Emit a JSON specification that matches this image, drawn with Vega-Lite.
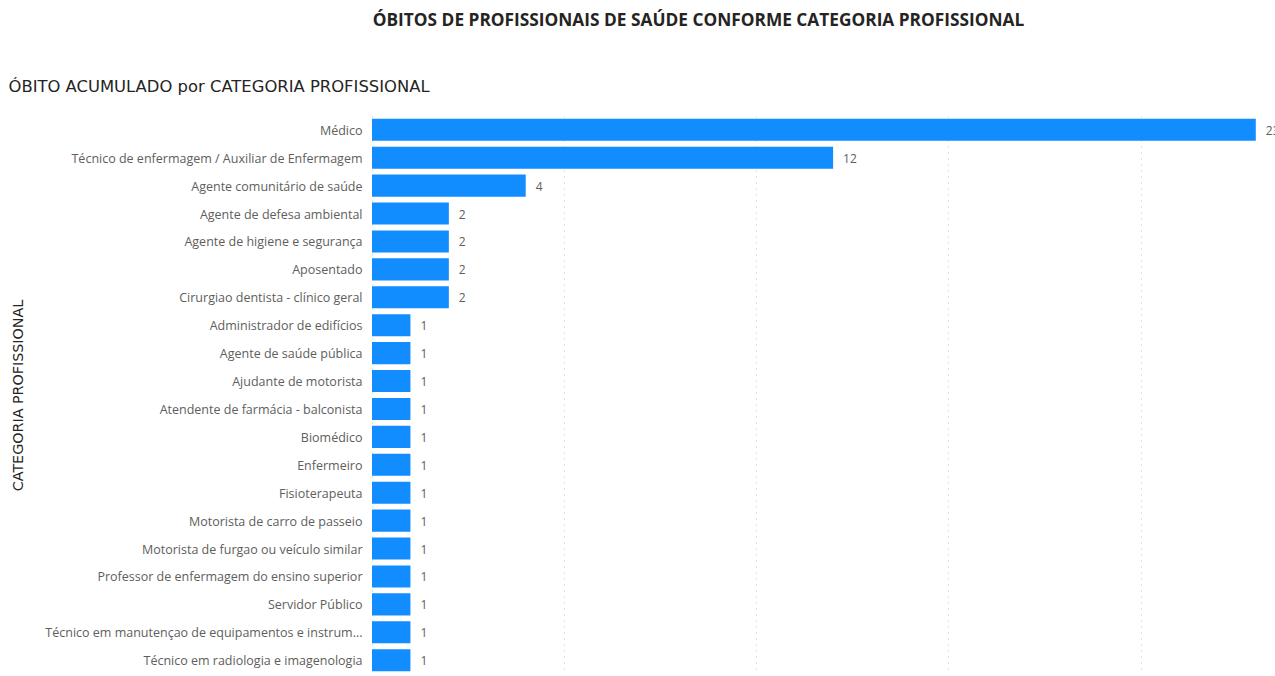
{
  "$schema": "https://vega.github.io/schema/vega-lite/v6.json",
  "autosize": {"type": "none"},
  "width": 903,
  "height": 558,
  "padding": {"left": 372, "top": 116, "right": 0, "bottom": 2},
  "background": "#ffffff",
  "view": {"stroke": null},
  "title": {
    "text": "ÓBITOS DE PROFISSIONAIS DE SAÚDE CONFORME CATEGORIA PROFISSIONAL",
    "anchor": "middle",
    "frame": "group",
    "dx": -125,
    "offset": 35,
    "baseline": "alphabetic",
    "font": "Open Sans",
    "fontSize": 17.3,
    "fontWeight": "bold",
    "color": "#252423"
  },
  "data": {
    "values": [
      {"categoria": "Médico", "obitos": 23},
      {"categoria": "Técnico de enfermagem / Auxiliar de Enfermagem", "obitos": 12},
      {"categoria": "Agente comunitário de saúde", "obitos": 4},
      {"categoria": "Agente de defesa ambiental", "obitos": 2},
      {"categoria": "Agente de higiene e segurança", "obitos": 2},
      {"categoria": "Aposentado", "obitos": 2},
      {"categoria": "Cirurgiao dentista - clínico geral", "obitos": 2},
      {"categoria": "Administrador de edifícios", "obitos": 1},
      {"categoria": "Agente de saúde pública", "obitos": 1},
      {"categoria": "Ajudante de motorista", "obitos": 1},
      {"categoria": "Atendente de farmácia - balconista", "obitos": 1},
      {"categoria": "Biomédico", "obitos": 1},
      {"categoria": "Enfermeiro", "obitos": 1},
      {"categoria": "Fisioterapeuta", "obitos": 1},
      {"categoria": "Motorista de carro de passeio", "obitos": 1},
      {"categoria": "Motorista de furgao ou veículo similar", "obitos": 1},
      {"categoria": "Professor de enfermagem do ensino superior", "obitos": 1},
      {"categoria": "Servidor Público", "obitos": 1},
      {"categoria": "Técnico em manutençao de equipamentos e instrum...", "obitos": 1},
      {"categoria": "Técnico em radiologia e imagenologia", "obitos": 1}
    ]
  },
  "encoding": {
    "y": {
      "field": "categoria",
      "type": "nominal",
      "sort": null,
      "scale": {"paddingInner": 0.21, "paddingOuter": 0.1},
      "axis": {
        "title": "CATEGORIA PROFISSIONAL",
        "titleFont": "DejaVu Sans",
        "titleFontSize": 14.3,
        "titleFontWeight": "normal",
        "titleColor": "#252423",
        "titleX": -354,
        "titleY": 279,
        "titleAngle": -90,
        "titleAlign": "center",
        "titleBaseline": "middle",
        "labelFont": "Open Sans",
        "labelFontSize": 12.5,
        "labelColor": "#605E5C",
        "labelPadding": 10,
        "labelLimit": 330,
        "labelBaseline": "middle",
        "labelOffset": 1,
        "ticks": false,
        "domain": false,
        "grid": false
      }
    },
    "x": {
      "field": "obitos",
      "type": "quantitative",
      "scale": {"domain": [0, 23.5], "nice": false, "zero": true},
      "axis": {
        "orient": "top",
        "values": [0, 5, 10, 15, 20],
        "labels": false,
        "ticks": false,
        "domain": false,
        "grid": true,
        "gridDash": [1, 5],
        "gridColor": "#c8c6c4",
        "gridWidth": 1,
        "title": "ÓBITO ACUMULADO por CATEGORIA PROFISSIONAL",
        "titleFont": "DejaVu Sans",
        "titleFontSize": 16.4,
        "titleFontWeight": "normal",
        "titleColor": "#252423",
        "titleX": -364,
        "titleY": -25,
        "titleAlign": "left",
        "titleAnchor": null,
        "titleBaseline": "alphabetic"
      }
    }
  },
  "layer": [
    {"mark": {"type": "bar", "color": "#118DFF"}},
    {
      "mark": {"type": "text", "align": "left", "baseline": "middle", "dx": 10, "dy": 1, "font": "Open Sans", "fontSize": 12, "color": "#605E5C"},
      "encoding": {"text": {"field": "obitos", "type": "quantitative"}}
    }
  ]
}
